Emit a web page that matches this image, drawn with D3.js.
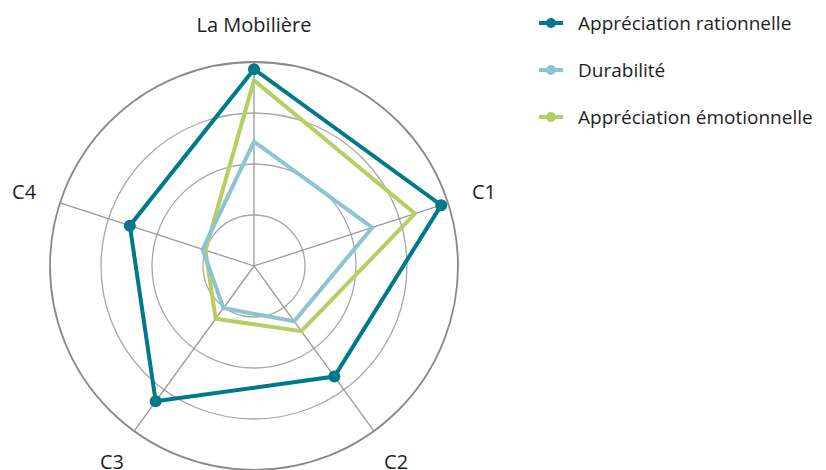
<!DOCTYPE html>
<html lang="fr">
<head>
<meta charset="UTF-8">
<script src="https://d3js.org/d3.v7.min.js"></script>
<style>
  body { margin: 0; background: #fff; }
  text { font-family: "Open Sans", sans-serif; fill: #1e1e1e; }
</style>
</head>
<body>
<svg id="chart" width="826" height="470"></svg>
<script>
// axes of the radar, clockwise from the top
var axes = ["La Mobilière", "C1", "C2", "C3", "C4"];

// values (0-100)
var rationnelle = [96.5, 96.5, 67, 82, 64];
var durabilite  = [61, 61, 33.5, 25.5, 26.5];
var emotionnelle = [91, 83, 39.5, 32, 25];

var seriesNames = ["Appréciation rationnelle", "Durabilité", "Appréciation émotionnelle"];
var ringTicks = [25, 50, 75, 100];

var series = [
  { name: seriesNames[0], values: rationnelle, color: "#00798b", dots: true },
  { name: seriesNames[1], values: durabilite, color: "#8cc4d4", dots: false },
  { name: seriesNames[2], values: emotionnelle, color: "#b6cf62", dots: false }
];

var svg = d3.select("#chart");
var cx = 254, cy = 266, R = 204;

var r = d3.scaleLinear().domain([0, 100]).range([0, R]);
var angle = d3.scalePoint().domain(axes).range([0, 2 * Math.PI * 4 / 5]);

function px(a, v) { return cx + r(v) * Math.sin(angle(a)); }
function py(a, v) { return cy - r(v) * Math.cos(angle(a)); }

var g = svg.append("g");

// rings
g.selectAll("circle.ring").data(ringTicks).enter().append("circle")
  .attr("class", "ring")
  .attr("cx", cx).attr("cy", cy)
  .attr("r", function(d) { return r(d); })
  .attr("fill", "none")
  .attr("stroke", function(d) { return d == 100 ? "#8a8a8a" : "#a8a8a8"; })
  .attr("stroke-width", function(d) { return d == 100 ? 1.8 : 1.3; });

// spokes
g.selectAll("line.spoke").data(axes).enter().append("line")
  .attr("x1", cx).attr("y1", cy)
  .attr("x2", function(d) { return px(d, 100); })
  .attr("y2", function(d) { return py(d, 100); })
  .attr("stroke", "#999")
  .attr("stroke-width", 1.3);

// axis labels
g.selectAll("text.lbl").data(axes).enter().append("text")
  .attr("x", function(d) { return px(d, 118.5); })
  .attr("y", function(d) { return py(d, 118.5); })
  .attr("text-anchor", "middle")
  .attr("dominant-baseline", "central")
  .style("font-size", "20px")
  .text(function(d) { return d; });

var line = d3.lineRadial()
  .angle(function(d, i) { return angle(axes[i]); })
  .radius(function(d) { return r(d); })
  .curve(d3.curveLinearClosed);

// draw back to front so the teal line is on top
series.slice().reverse().forEach(function(s) {
  var sg = g.append("g").attr("transform", "translate(" + cx + "," + cy + ")");
  sg.append("path")
    .attr("d", line(s.values))
    .attr("fill", "none")
    .attr("stroke", s.color)
    .attr("stroke-width", 4)
    .attr("stroke-linejoin", "miter");
  if (s.dots) {
    sg.selectAll("circle").data(s.values).enter().append("circle")
      .attr("cx", function(d, i) { return r(d) * Math.sin(angle(axes[i])); })
      .attr("cy", function(d, i) { return -r(d) * Math.cos(angle(axes[i])); })
      .attr("r", 6)
      .attr("fill", s.color);
  }
});

// legend
var legend = svg.append("g").attr("transform", "translate(539,0)");
var ly = d3.scalePoint().domain(seriesNames).range([23, 117]);
var item = legend.selectAll("g").data(series).enter().append("g")
  .attr("transform", function(d) { return "translate(0," + ly(d.name) + ")"; });
item.append("line")
  .attr("x1", 0).attr("x2", 24).attr("y1", 0).attr("y2", 0)
  .attr("stroke", function(d) { return d.color; })
  .attr("stroke-width", 4);
item.append("circle")
  .attr("cx", 12).attr("cy", 0).attr("r", 5)
  .attr("fill", function(d) { return d.color; });
item.append("text")
  .attr("x", 39).attr("y", 0)
  .attr("dominant-baseline", "central")
  .style("font-size", "19px")
  .text(function(d) { return d.name; });
</script>
</body>
</html>
